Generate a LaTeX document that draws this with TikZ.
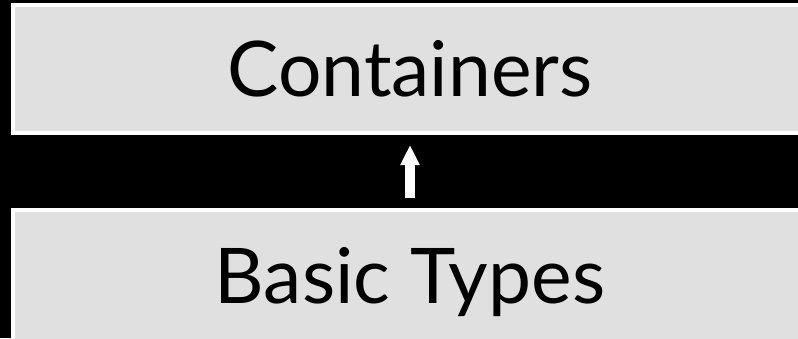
\documentclass[tikz,border=0pt]{standalone}
\usepackage{fontspec}
\setmainfont{Lato}
\usetikzlibrary{arrows.meta}
\definecolor{boxgray}{HTML}{E0E0E0}
\tikzset{
  layerbox/.style={draw=white, line width=4bp, fill=boxgray, inner sep=0pt,
    minimum width=794bp, text height=55bp, text depth=0bp,
    font=\fontsize{76.8bp}{80bp}\selectfont, text=black},
  uparrow/.style={draw=white, line width=10bp,
    -{Triangle[width=18bp,length=20bp]}, shorten <=10bp, shorten >=10bp}
}
\begin{document}
\begin{tikzpicture}[x=1bp,y=1bp]
\useasboundingbox (0,0) rectangle (798,338);
\fill[black] (0,0) rectangle (798,338);
\clip (0,0) rectangle (798,338);
\node[layerbox, minimum height=128bp] (top) at (410,269) {Containers};
\node[layerbox, minimum height=132bp] (bot) at (410,62) {Basic Types};
\draw[uparrow] (bot.north) -- (top.south);
\end{tikzpicture}
\end{document}
